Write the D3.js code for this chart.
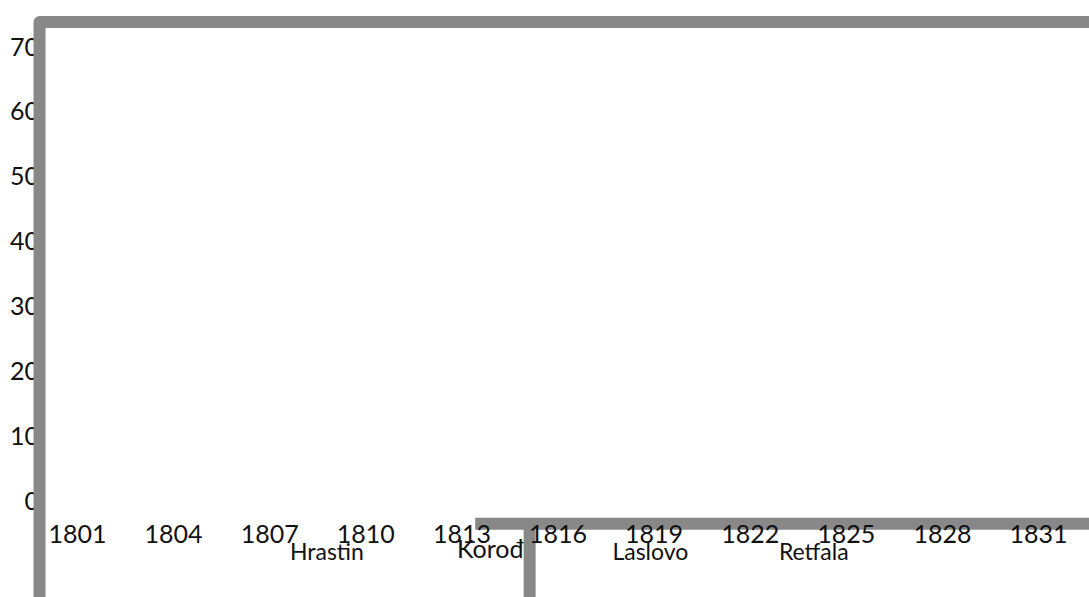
<!DOCTYPE html>
<html>
<head>
<meta charset="utf-8">
<script src="https://cdn.jsdelivr.net/npm/d3@7"></script>
<style>
  body { margin: 0; background: #fff; }
  text { font-family: Lato, "Open Sans", sans-serif; fill: #111; }
</style>
</head>
<body>
<svg id="chart" width="1089" height="597"></svg>
<script>
// tick labels
const yearTicks = [1801, 1804, 1807, 1810, 1813, 1816, 1819, 1822, 1825, 1828, 1831];
const valueTicks = [0, 10, 20, 30, 40, 50, 60, 70];

// group labels under the axis, centred on a year
const groups = ["Hrastin", "Korođ", "Laslovo", "Retfala"];
const groupYears = [1808.8, 1813.9, 1818.9, 1824.0];

// the two grey traces, as [year, value] points
const outerTrace = [[1799.83, -20], [1799.83, 73.7], [1836, 73.7]];
const baseTrace = [[1813.43, -3.6], [1836, -3.6]];
const stemTrace = [[1815.13, -3.6], [1815.13, -20]];

const svg = d3.select("#chart");

const xScale = d3.scaleLinear()
  .domain([1801, 1831])
  .range([77, 1038]);

const yScale = d3.scaleLinear()
  .domain([0, 70])
  .range([500.5, 46]);

// y axis first, the trace sits on top of it
const yAxis = svg.append("g")
  .attr("class", "y-axis")
  .attr("transform", "translate(39,0)")
  .call(d3.axisLeft(yScale).tickValues(valueTicks).tickSize(0).tickPadding(0));
yAxis.select(".domain").remove();
yAxis.selectAll("text")
  .style("font-size", "25px")
  .attr("dy", "0.36em");

const line = d3.line()
  .x(d => xScale(d[0]))
  .y(d => yScale(d[1]));

svg.selectAll("path.trace")
  .data([outerTrace, baseTrace, stemTrace])
  .enter()
  .append("path")
  .attr("class", "trace")
  .attr("d", line)
  .attr("fill", "none")
  .attr("stroke", "#888")
  .attr("stroke-width", 12)
  .attr("stroke-linejoin", "round");

// x axis labels
const xAxis = svg.append("g")
  .attr("class", "x-axis")
  .attr("transform", "translate(0,525)")
  .call(d3.axisBottom(xScale).tickValues(yearTicks).tickFormat(d3.format("d")).tickSize(0).tickPadding(0));
xAxis.select(".domain").remove();
xAxis.selectAll("text")
  .style("font-size", "25px")
  .attr("dy", "0.71em");

svg.selectAll("text.group")
  .data(groups)
  .enter()
  .append("text")
  .attr("class", "group")
  .attr("x", (d, i) => xScale(groupYears[i]))
  .attr("y", (d, i) => i === 1 ? 558 : 560)
  .attr("text-anchor", "middle")
  .style("font-size", (d, i) => i === 1 ? "25px" : "23px")
  .text(d => d);
</script>
</body>
</html>
